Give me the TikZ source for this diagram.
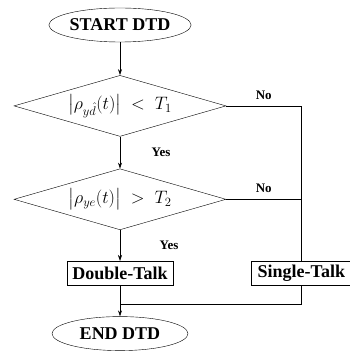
\RequirePackage{fix-cm}
\documentclass[tikz,border=0pt]{standalone}
\usepackage{amsmath}
\usepackage{fontspec}
\setmainfont{Liberation Serif}
\usepackage{tikz}
\usetikzlibrary{positioning,arrows.meta,shapes.geometric,calc}

\begin{document}
\begin{tikzpicture}[
  x=1pt, y=1pt,
  node distance=32pt,
  termNode/.style={ellipse, draw, minimum width=136pt, minimum height=34pt,
                   inner sep=0pt, font=\fontsize{18}{20}\selectfont\bfseries},
  testNode/.style={diamond, draw, aspect=3.48, minimum width=212pt,
                   minimum height=61pt, inner sep=0pt,
                   font=\fontsize{18}{20}\selectfont},
  stateNode/.style={rectangle, draw, minimum height=24pt, inner sep=3pt,
                    font=\fontsize{18}{20}\selectfont\bfseries},
  ans/.style={font=\fontsize{13}{14}\selectfont\bfseries},
  flow/.style={line width=0.6pt},
  >={Stealth[length=6pt,width=4pt]}
]
  \useasboundingbox (0,0) rectangle (350,356);

  % Start
  \node[termNode] (start) at (120,331) {START DTD};

  % Two tests
  \node[testNode, below=33pt of start] (testA)
    {$\bigl|\rho_{y\hat{d}}(t)\bigr| \;<\; T_1$};
  \node[testNode, below=32pt of testA] (testB)
    {$\bigl|\rho_{ye}(t)\bigr| \;>\; T_2$};

  % Decisions
  \node[stateNode, minimum width=106pt, below=31pt of testB] (dbl) {Double-Talk};
  \node[stateNode, minimum width=100pt, right=78pt of dbl] (sgl) {Single-Talk};

  % End
  \node[termNode, below=31pt of dbl] (stop) {END DTD};

  \coordinate (turnA) at (sgl.north |- testA.east);
  \coordinate (turnB) at (sgl.north |- testB.east);
  \coordinate (merge) at ($(dbl.south)!0.6!(stop.north)$);

  % Yes branches
  \draw[flow,->] (start) -- (testA);
  \draw[flow,->] (testA) -- node[ans, right=28pt] {Yes} (testB);
  \draw[flow,->] (testB) -- node[ans, right=36pt] {Yes} (dbl);

  % No branches
  \draw[flow] (testA.east) -- node[ans, above=3pt] {No} (turnA) -- (sgl.north);
  \draw[flow] (testB.east) -- node[ans, above=3pt] {No} (turnB);

  % Merge to end
  \draw[flow] (sgl.south) |- (merge);
  \draw[flow,->] (dbl) -- (stop);
\end{tikzpicture}
\end{document}
